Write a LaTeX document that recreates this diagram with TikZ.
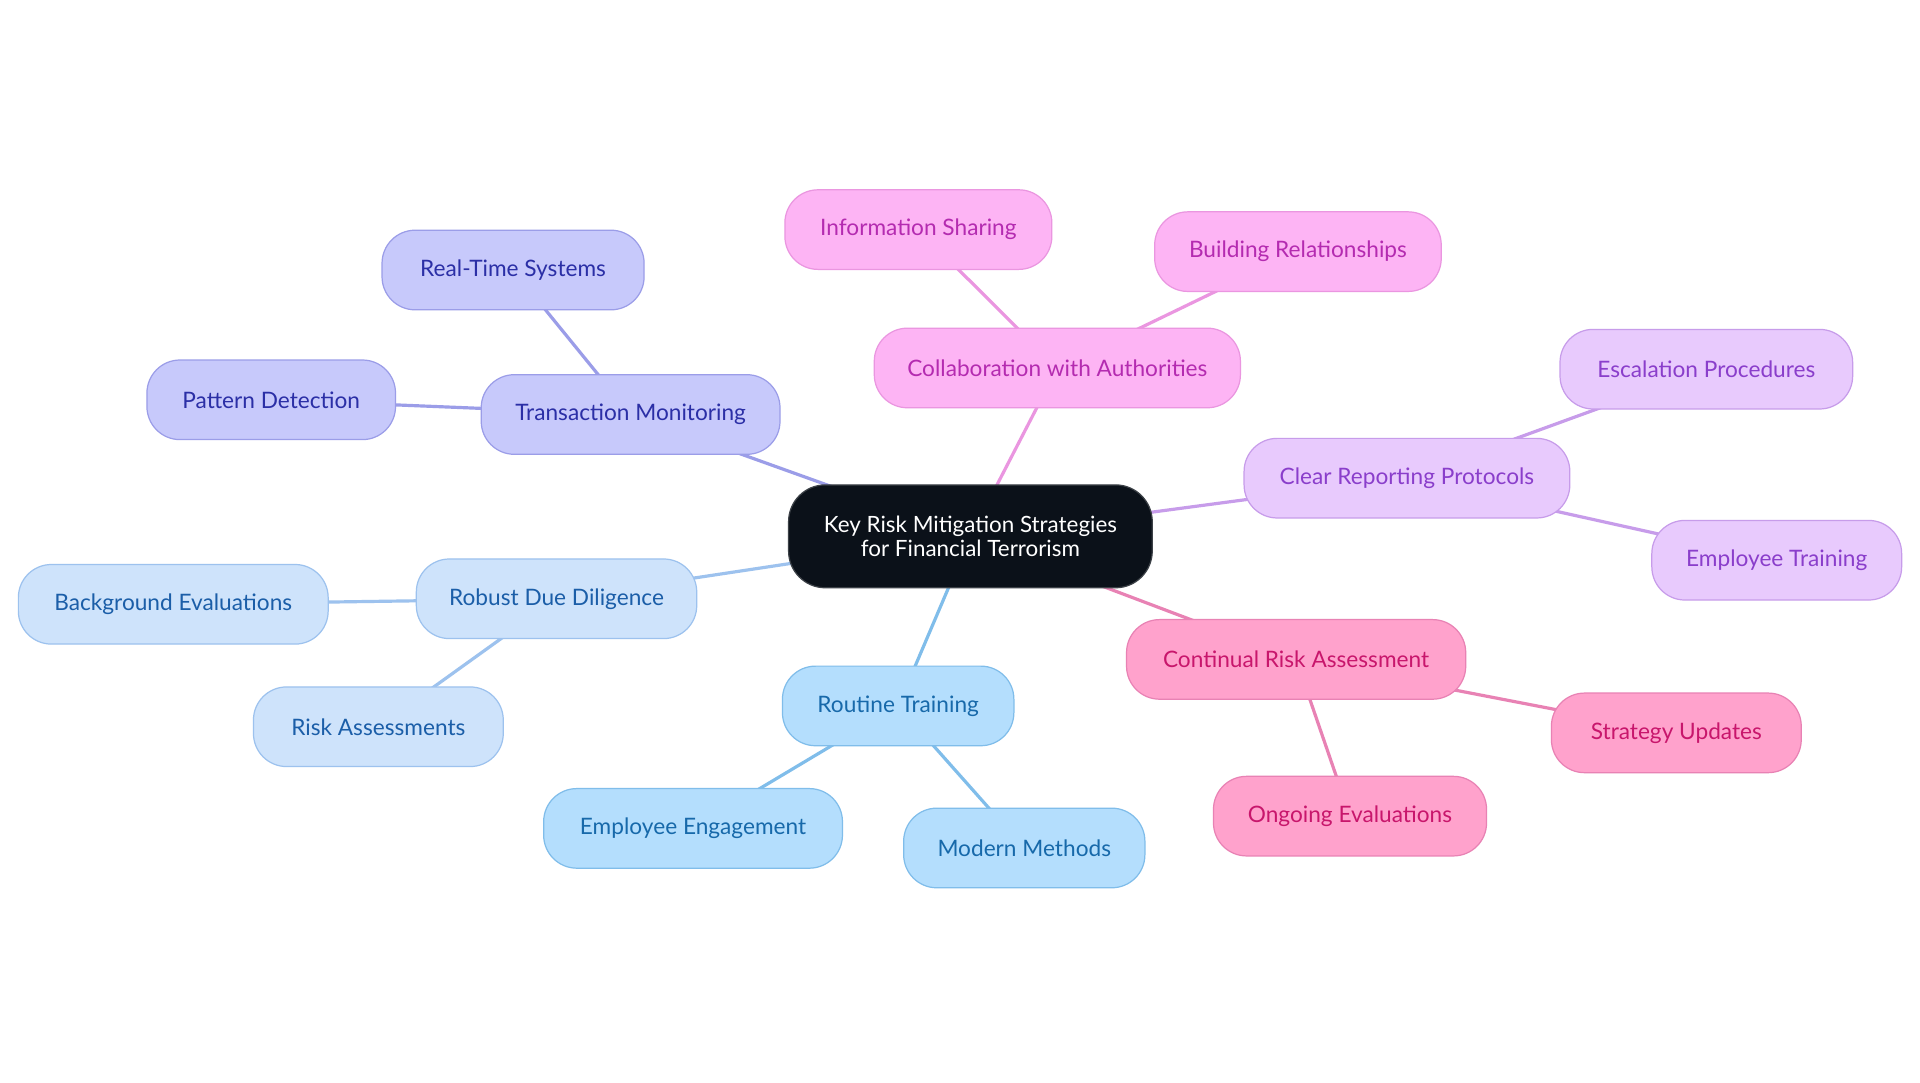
\documentclass[tikz,border=0pt]{standalone}
\usepackage{fontspec}
\setmainfont{Lato}
\usetikzlibrary{backgrounds}
\pgfdeclarelayer{canvas}
\pgfsetlayers{canvas,background,main}
\definecolor{tmF}{HTML}{C7C9FB}\definecolor{tmD}{HTML}{9B9DE8}\definecolor{tmT}{HTML}{2B2FA6}
\definecolor{caF}{HTML}{FDB4F4}\definecolor{caD}{HTML}{EA96E0}\definecolor{caT}{HTML}{B42BB0}
\definecolor{crF}{HTML}{E8CAFD}\definecolor{crD}{HTML}{C79CEA}\definecolor{crT}{HTML}{8A3ECB}
\definecolor{ctF}{HTML}{FFA2CC}\definecolor{ctD}{HTML}{E882B4}\definecolor{ctT}{HTML}{C8166C}
\definecolor{rtF}{HTML}{B4DEFD}\definecolor{rtD}{HTML}{80BDEA}\definecolor{rtT}{HTML}{1769AA}
\definecolor{rdF}{HTML}{CEE3FB}\definecolor{rdD}{HTML}{9DC2EE}\definecolor{rdT}{HTML}{1B5EA8}
\definecolor{ctrF}{HTML}{0B1119}
\tikzset{
  box/.style={rounded corners=27pt, minimum height=65pt, inner sep=0pt, line width=1pt,
    font=\fontsize{18.5}{22}\selectfont, align=center},
  tm/.style={box, fill=tmF, draw=tmD, text=tmT},
  ca/.style={box, fill=caF, draw=caD, text=caT},
  cr/.style={box, fill=crF, draw=crD, text=crT},
  ct/.style={box, fill=ctF, draw=ctD, text=ctT},
  rt/.style={box, fill=rtF, draw=rtD, text=rtT},
  rd/.style={box, fill=rdF, draw=rdD, text=rdT},
  link/.style={line width=2.6pt},
}
\begin{document}
\begin{tikzpicture}[x=1pt,y=-1pt]
\begin{pgfonlayer}{canvas}
\fill[white] (0,0) rectangle (1568,884.4);
\end{pgfonlayer}
\useasboundingbox (0,0) rectangle (1568,884.4);
\node[box, fill=ctrF, draw=ctrF!80!white, text=white, minimum width=297pt, minimum height=84pt,
  rounded corners=30pt, font=\fontsize{18.3}{20}\selectfont] (c) at (792.5,438)
  {Key Risk Mitigation Strategies\\for Financial Terrorism};
\node[tm, minimum width=244pt] (tm) at (515,338.5) {Transaction Monitoring};
\node[tm, minimum width=214pt] (rts) at (419,220.5) {Real-Time Systems};
\node[tm, minimum width=203pt] (pd) at (221.5,326.5) {Pattern Detection};
\node[ca, minimum width=299pt] (ca) at (863.5,300.5) {Collaboration with Authorities};
\node[ca, minimum width=218pt] (is) at (750,187.5) {Information Sharing};
\node[ca, minimum width=234pt] (br) at (1060,205.5) {Building Relationships};
\node[cr, minimum width=266pt] (cr) at (1149,390.5) {Clear Reporting Protocols};
\node[cr, minimum width=239pt] (ep) at (1393.5,301.5) {Escalation Procedures};
\node[cr, minimum width=204pt] (et) at (1451,457.5) {Employee Training};
\node[ct, minimum width=277pt] (ct) at (1058.5,538.5) {Continual Risk Assessment};
\node[ct, minimum width=204pt] (su) at (1369,598.5) {Strategy Updates};
\node[ct, minimum width=223pt] (oe) at (1102.5,666.5) {Ongoing Evaluations};
\node[rt, minimum width=189pt] (rt) at (733.5,576.5) {Routine Training};
\node[rt, minimum width=244pt] (ee) at (566,676.5) {Employee Engagement};
\node[rt, minimum width=197pt] (mm) at (836.5,692.5) {Modern Methods};
\node[rd, minimum width=229pt] (rd) at (454.5,489) {Robust Due Diligence};
\node[rd, minimum width=253pt] (be) at (141.5,493.5) {Background Evaluations};
\node[rd, minimum width=204pt] (ra) at (309,593.5) {Risk Assessments};
\begin{scope}[on background layer]
\draw[link, tmD] (c.center) -- (tm.center);
\draw[link, tmD] (tm.center) -- (rts.center);
\draw[link, tmD] (tm.center) -- (pd.center);
\draw[link, caD] (c.center) -- (ca.center);
\draw[link, caD] (ca.center) -- (is.center);
\draw[link, caD] (ca.center) -- (br.center);
\draw[link, crD] (c.center) -- (cr.center);
\draw[link, crD] (cr.center) -- (ep.center);
\draw[link, crD] (cr.center) -- (et.center);
\draw[link, ctD] (c.center) -- (ct.center);
\draw[link, ctD] (ct.center) -- (su.center);
\draw[link, ctD] (ct.center) -- (oe.center);
\draw[link, rtD] (c.center) -- (rt.center);
\draw[link, rtD] (rt.center) -- (ee.center);
\draw[link, rtD] (rt.center) -- (mm.center);
\draw[link, rdD] (c.center) -- (rd.center);
\draw[link, rdD] (rd.center) -- (be.center);
\draw[link, rdD] (rd.center) -- (ra.center);
\end{scope}
\end{tikzpicture}
\end{document}
